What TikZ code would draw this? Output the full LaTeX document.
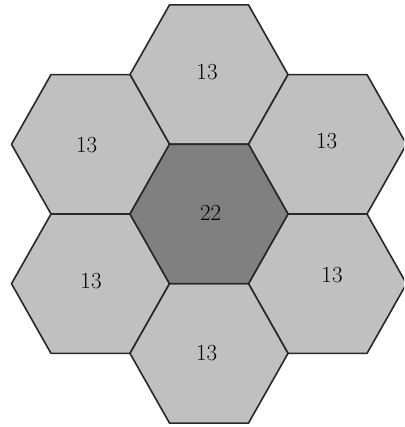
\documentclass[tikz,border=0pt]{standalone}
\usepackage{amsmath}
\usetikzlibrary{calc}

\definecolor{cellgray}{RGB}{192,192,192}
\definecolor{coregray}{RGB}{128,128,128}
\definecolor{edgegray}{RGB}{40,40,40}

\tikzset{
  cell/.style={draw=edgegray, line width=1.6pt, line join=round, fill=cellgray},
  core/.style={cell, fill=coregray},
  count/.style={font=\fontsize{23}{27}\selectfont, inner sep=0pt}
}

\begin{document}
\begin{tikzpicture}[x=1pt, y=1pt]
\def\r{79}
\def\h{69.7}
\useasboundingbox (0,0) rectangle (404,427);
\clip (0,0) rectangle (404,427);
% outer ring of cells
\foreach \cx/\cy in {209/352.4, 90.5/282.7, 327.5/282.7, 90.5/143.3, 327.5/143.3, 209/73.6}
  \draw[cell] ($(\cx,\cy)+(-\r,0)$) -- ++(\r/2,\h) -- ++(\r,0) -- ++(\r/2,-\h)
    -- ++(-\r/2,-\h) -- ++(-\r,0) -- cycle;
% centre cell
\draw[core] ($(209,213)+(-\r,0)$) -- ++(\r/2,\h) -- ++(\r,0) -- ++(\r/2,-\h)
  -- ++(-\r/2,-\h) -- ++(-\r,0) -- cycle;

\node[count] (ctop) at (207,354.5) {13};
\node[count] (cupleft) at (86.7,282) {13};
\node[count] (cupright) at (326.7,286) {13};
\node[count] (ccore) at (210.7,214.5) {22};
\node[count] (clowleft) at (91,146) {13};
\node[count] (clowright) at (332,151.5) {13};
\node[count] (cbottom) at (206.7,74) {13};
\end{tikzpicture}
\end{document}
